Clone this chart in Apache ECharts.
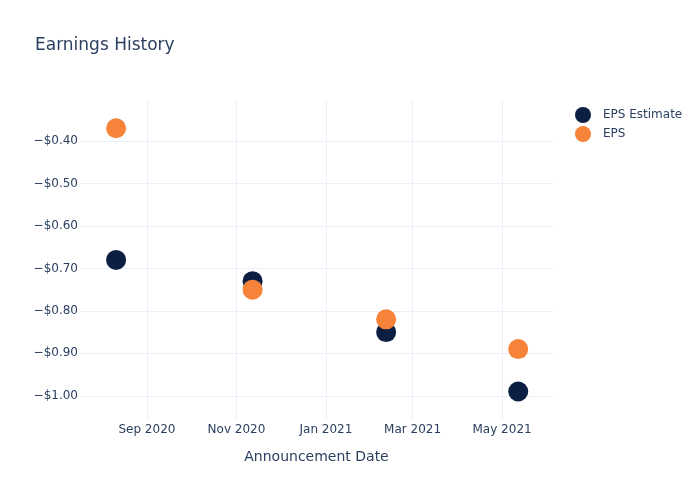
<!DOCTYPE html>
<html>
<head>
<meta charset="utf-8">
<script src="https://cdn.jsdelivr.net/npm/echarts@6/dist/echarts.min.js"></script>
<style>html,body{margin:0;padding:0;background:#fff}#c{width:700px;height:500px}</style>
</head>
<body>
<div id="c"></div>
<script>
const dates = ['2020-08-11', '2020-11-12', '2021-02-11', '2021-05-12'];
const epsEstimate = [-0.68, -0.73, -0.85, -0.99];
const eps = [-0.37, -0.75, -0.82, -0.89];
const xTicks = ['2020-09-01', '2020-11-01', '2021-01-01', '2021-03-01', '2021-05-01'];
const yTicks = [-1.0, -0.9, -0.8, -0.7, -0.6, -0.5, -0.4];
const seriesNames = ['EPS Estimate', 'EPS'];
const colors = ['#0c1f43', '#f7823a'];

const ts = s => new Date(s + 'T00:00:00Z').getTime();
const MON = ['Jan','Feb','Mar','Apr','May','Jun','Jul','Aug','Sep','Oct','Nov','Dec'];
const textColor = '#2a3f5f';
const gridColor = '#ebf0f8';
const font = '"DejaVu Sans", "Open Sans", sans-serif';

const chart = echarts.init(document.getElementById('c'), null, {renderer: 'canvas'});
chart.setOption({
  animation: false,
  backgroundColor: '#fff',
  textStyle: {fontFamily: font},
  title: {
    text: 'Earnings History', left: 30, top: 32,
    textStyle: {fontFamily: font, fontSize: 17, fontWeight: 'normal', color: textColor}
  },
  legend: {
    orient: 'vertical', left: 575, top: 107, itemGap: 3, padding: 0,
    icon: 'circle', itemWidth: 16, itemHeight: 16,
    data: seriesNames,
    textStyle: {fontFamily: font, fontSize: 12, color: textColor, padding: [0, 0, 0, 7]}
  },
  grid: {left: 80, right: 147, top: 100, bottom: 80, containLabel: false},
  xAxis: {
    type: 'value',
    min: ts('2020-07-17') + 0.4 * 864e5,
    max: ts('2021-06-04') + 0.7 * 864e5,
    name: 'Announcement Date', nameLocation: 'middle', nameGap: 30,
    nameTextStyle: {fontFamily: font, fontSize: 14, color: textColor},
    axisLine: {show: false},
    axisTick: {show: false, customValues: xTicks.map(ts)},
    splitLine: {show: true, lineStyle: {color: gridColor, width: 1}},
    axisLabel: {
      customValues: xTicks.map(ts),
      color: textColor, fontSize: 12, fontFamily: font, margin: 4,
      formatter: v => { const d = new Date(v); return MON[d.getUTCMonth()] + ' ' + d.getUTCFullYear(); }
    }
  },
  yAxis: {
    type: 'value',
    min: -1.057, max: -0.3034,
    axisLine: {show: false},
    axisTick: {show: false, customValues: yTicks},
    splitLine: {show: true, lineStyle: {color: gridColor, width: 1}},
    axisLabel: {
      customValues: yTicks,
      color: textColor, fontSize: 12, fontFamily: font, margin: 2,
      formatter: v => (v < 0 ? '\u2212' : '') + '$' + Math.abs(v).toFixed(2)
    }
  },
  series: [
    {
      name: seriesNames[0], type: 'scatter', symbolSize: 20,
      itemStyle: {color: colors[0], opacity: 1},
      data: dates.map((d, i) => [ts(d), epsEstimate[i]])
    },
    {
      name: seriesNames[1], type: 'scatter', symbolSize: 20,
      itemStyle: {color: colors[1], opacity: 1},
      data: dates.map((d, i) => [ts(d), eps[i]])
    }
  ]
});
</script>
</body>
</html>
